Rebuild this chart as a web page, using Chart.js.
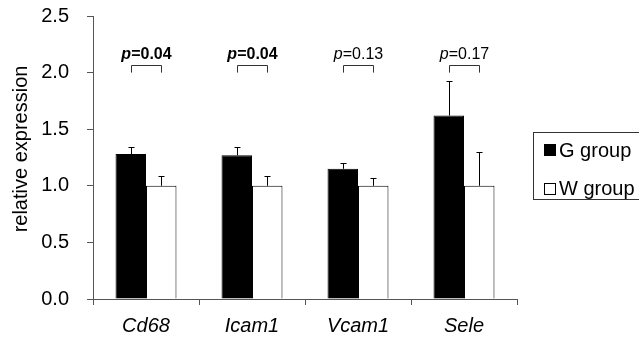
<!DOCTYPE html>
<html>
<head>
<meta charset="utf-8">
<script src="https://cdn.jsdelivr.net/npm/chart.js@4.4.1/dist/chart.umd.min.js"></script>
<style>
  html, body { margin: 0; padding: 0; background: #fff; }
  #wrap { width: 639px; height: 339px; position: relative; }
</style>
</head>
<body>
<div id="wrap"><canvas id="chart"></canvas></div>
<script>
const genes = ["Cd68", "Icam1", "Vcam1", "Sele"];
const gGroup = [1.28, 1.27, 1.15, 1.62];
const gErr = [0.06, 0.07, 0.05, 0.31];
const wGroup = [1.0, 1.0, 1.0, 1.0];
const wErr = [0.09, 0.09, 0.07, 0.30];
const pValues = ["0.04", "0.04", "0.13", "0.17"];
const pBold = [true, true, false, false];
const seriesNames = ["G group", "W group"];
const yTitle = "relative expression";

const FONT = "'Liberation Sans', Arial, sans-serif";
const axisColor = "#555";

// error bars (upper only), brackets with p values, y title, boxed legend
const extras = {
  id: "extras",
  afterDatasetsDraw(chart) {
    const ctx = chart.ctx;
    const y = chart.scales.y;
    const errs = [gErr, wErr];
    ctx.save();
    ctx.strokeStyle = "#000";
    ctx.lineWidth = 1;
    [0, 1].forEach((d) => {
      const meta = chart.getDatasetMeta(d);
      meta.data.forEach((bar, i) => {
        const v = chart.data.datasets[d].data[i];
        const top = Math.round(y.getPixelForValue(v + errs[d][i])) + 0.5;
        const x = Math.round(bar.x) + 0.5;
        ctx.beginPath();
        ctx.moveTo(x, bar.y);
        ctx.lineTo(x, top);
        ctx.moveTo(x - 3, top);
        ctx.lineTo(x + 3, top);
        ctx.stroke();
      });
    });

    // brackets
    const m0 = chart.getDatasetMeta(0), m1 = chart.getDatasetMeta(1);
    const yTop = Math.round(y.getPixelForValue(2.07)) + 0.5;
    const yLeg = y.getPixelForValue(2.0);
    const yTxt = y.getPixelForValue(2.16);
    genes.forEach((g, i) => {
      const x0 = Math.round(m0.data[i].x) + 0.5;
      const x1 = Math.round(m1.data[i].x) + 0.5;
      ctx.strokeStyle = "#333";
      ctx.beginPath();
      ctx.moveTo(x0, yLeg);
      ctx.lineTo(x0, yTop);
      ctx.lineTo(x1, yTop);
      ctx.lineTo(x1, yLeg);
      ctx.stroke();

      const weight = pBold[i] ? "bold " : "";
      const rest = "=" + pValues[i];
      ctx.font = "italic " + weight + "16px " + FONT;
      const wp = ctx.measureText("p").width;
      ctx.font = weight + "16px " + FONT;
      const wr = ctx.measureText(rest).width;
      const start = (x0 + x1) / 2 - (wp + wr) / 2;
      ctx.fillStyle = "#000";
      ctx.textBaseline = "middle";
      ctx.textAlign = "left";
      ctx.font = "italic " + weight + "16px " + FONT;
      ctx.fillText("p", start, yTxt);
      ctx.font = weight + "16px " + FONT;
      ctx.fillText(rest, start + wp, yTxt);
    });

    // y axis title
    ctx.save();
    ctx.translate(21, 149);
    ctx.rotate(-Math.PI / 2);
    ctx.font = "20px " + FONT;
    ctx.textAlign = "center";
    ctx.textBaseline = "middle";
    ctx.fillText(yTitle, 0, 0);
    ctx.restore();

    // legend box (runs off the right edge)
    ctx.strokeStyle = "#333";
    ctx.strokeRect(533.5, 132.5, 120, 67);
    ctx.font = "20px " + FONT;
    ctx.textBaseline = "middle";
    ctx.textAlign = "left";
    ctx.fillStyle = "#000";
    ctx.fillRect(544, 144, 12, 12);
    ctx.fillText(seriesNames[0], 559, 151);
    ctx.strokeStyle = "#000";
    ctx.strokeRect(544.5, 183.5, 11, 11);
    ctx.fillText(seriesNames[1], 559, 189);
    ctx.restore();
  }
};

new Chart(document.getElementById("chart"), {
  type: "bar",
  data: {
    labels: genes,
    datasets: [
      {
        label: seriesNames[0],
        data: gGroup,
        backgroundColor: "#000",
        borderColor: "#000",
        borderWidth: 1,
        categoryPercentage: 0.575,
        barPercentage: 1.0
      },
      {
        label: seriesNames[1],
        data: wGroup,
        backgroundColor: "#fff",
        borderColor: "#000",
        borderWidth: 1,
        categoryPercentage: 0.575,
        barPercentage: 1.0
      }
    ]
  },
  options: {
    responsive: true,
    maintainAspectRatio: false,
    animation: false,
    layout: { padding: { left: 0, right: 122, top: 16, bottom: 0 } },
    plugins: {
      legend: { display: false },
      tooltip: { enabled: false }
    },
    scales: {
      x: {
        grid: {
          offset: true,
          drawOnChartArea: false,
          drawTicks: true,
          tickLength: 6,
          color: axisColor
        },
        border: { color: axisColor, width: 1 },
        ticks: {
          color: "#000",
          padding: 9,
          font: { family: FONT, size: 20, style: "italic" }
        },
        afterFit: (s) => { s.height = 40; }
      },
      y: {
        min: 0,
        max: 2.5,
        ticks: {
          stepSize: 0.5,
          color: "#000",
          padding: 18,
          font: { family: FONT, size: 20 },
          callback: (v) => Number(v).toFixed(1)
        },
        grid: {
          drawOnChartArea: false,
          drawTicks: true,
          tickLength: 6,
          color: axisColor
        },
        border: { color: axisColor, width: 1 },
        afterFit: (s) => {
          s.width = 93;
          s.paddingTop = 8;
          s.paddingBottom = 8;
        }
      }
    }
  },
  plugins: [extras]
});
</script>
</body>
</html>
